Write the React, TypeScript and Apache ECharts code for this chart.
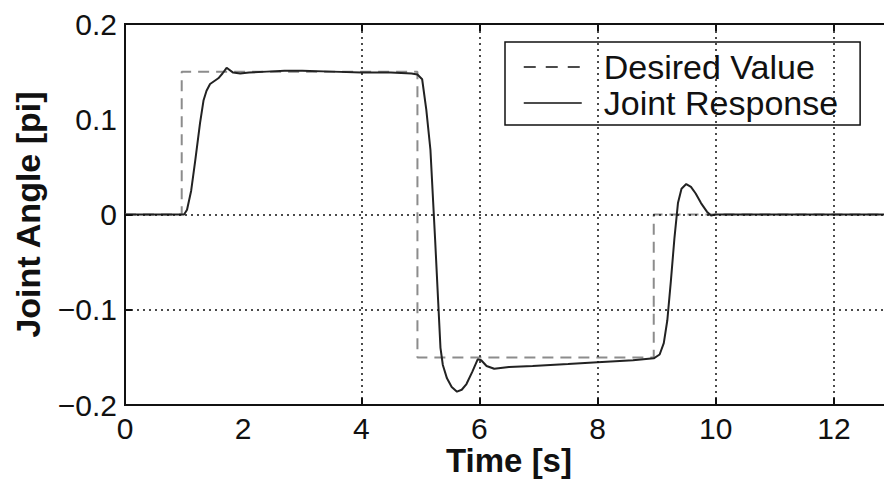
import React, { useEffect, useRef } from "react";
import * as echarts from "echarts";

// ---- data ----
const xTicks = [0, 2, 4, 6, 8, 10, 12];
const yTicks = [-0.2, -0.1, 0, 0.1, 0.2];
const gridX = [4, 6, 8, 10, 12]; // visible vertical grid lines
const gridY = [-0.1, 0]; // visible horizontal grid lines

const desiredX = [0, 0.96, 0.96, 4.95, 4.95, 8.95, 8.95, 13];
const desiredY = [0, 0, 0.15, 0.15, -0.15, -0.15, 0, 0];

const responseX = [
  0, 1.0, 1.05, 1.12, 1.19, 1.27, 1.33, 1.38, 1.44, 1.58, 1.65, 1.72, 1.83, 1.95,
  2.1, 2.4, 2.7, 3.0, 3.5, 4.0, 4.5, 4.85, 4.95, 5.03, 5.1, 5.17, 5.25, 5.3, 5.34,
  5.38, 5.45, 5.53, 5.62, 5.7, 5.78, 5.88, 5.97, 6.03, 6.12, 6.25, 6.5, 6.9, 7.5,
  8.0, 8.6, 8.95, 9.05, 9.12, 9.18, 9.24, 9.3, 9.36, 9.42, 9.5, 9.58, 9.66, 9.75,
  9.85, 9.92, 10.0, 13,
];
const responseY = [
  0, 0, 0.005, 0.025, 0.057, 0.096, 0.12, 0.13, 0.137, 0.143, 0.148, 0.154, 0.149,
  0.148, 0.149, 0.15, 0.151, 0.151, 0.15, 0.149, 0.149, 0.148, 0.147, 0.142, 0.11,
  0.068, -0.027, -0.09, -0.14, -0.158, -0.172, -0.181, -0.186, -0.184, -0.178,
  -0.165, -0.152, -0.153, -0.159, -0.162, -0.16, -0.159, -0.157, -0.155, -0.153,
  -0.151, -0.147, -0.135, -0.111, -0.07, -0.025, 0.012, 0.027, 0.032, 0.029, 0.022,
  0.012, 0.003, -0.001, 0, 0,
];

const seriesNames = ["Desired Value", "Joint Response"];
const xTitle = "Time [s]";
const yTitle = "Joint Angle [pi]";

const FONT = "'Liberation Sans', Arial, Helvetica, sans-serif";

export default function App() {
  const ref = useRef<HTMLDivElement>(null);

  useEffect(() => {
    if (!ref.current) return;
    const chart = echarts.init(ref.current, undefined, { renderer: "svg" });

    const xMin = 0, xMax = 13, yMin = -0.2, yMax = 0.2;
    const plotW = 900 - 125 - 7;
    const plotH = 480 - 24 - 75;
    const tickPx = 7;
    const tickY = (tickPx / plotH) * (yMax - yMin);
    const tickX = (tickPx / plotW) * (xMax - xMin);

    const tickSegments: any[] = [];
    gridX.forEach((x) => {
      tickSegments.push([{ coord: [x, yMax] }, { coord: [x, yMax - tickY] }]);
      tickSegments.push([{ coord: [x, yMin] }, { coord: [x, yMin + tickY] }]);
    });
    gridY.forEach((y) => {
      tickSegments.push([{ coord: [xMin, y] }, { coord: [xMin + tickX, y] }]);
    });

    chart.setOption({
      animation: false,
      backgroundColor: "#fff",
      textStyle: { fontFamily: FONT },
      grid: {
        left: 125,
        right: 7,
        top: 24,
        bottom: 75,
        containLabel: false,
        outerBoundsMode: "none",
        show: true,
        borderColor: "#111",
        borderWidth: 2,
        backgroundColor: "transparent",
      },
      legend: {
        orient: "vertical",
        left: 505,
        top: 42,
        backgroundColor: "#fff",
        borderColor: "#111",
        borderWidth: 1.5,
        borderRadius: 0,
        padding: [8, 22, 5, 18],
        itemWidth: 58,
        itemHeight: 30,
        itemGap: 2,
        textStyle: {
          fontSize: 34,
          color: "#111",
          fontFamily: FONT,
          padding: [0, 0, 0, 17],
        },
        data: [
          {
            name: seriesNames[0],
            lineStyle: { color: "#111", type: [12, 10], width: 1.5 },
            itemStyle: { opacity: 0, color: "transparent", borderWidth: 0 },
          },
          {
            name: seriesNames[1],
            lineStyle: { color: "#111", type: "solid", width: 1.5 },
            itemStyle: { opacity: 0, color: "transparent", borderWidth: 0 },
          },
        ],
      },
      xAxis: {
        type: "value",
        min: xMin,
        max: xMax,
        interval: 2,
        name: xTitle,
        nameLocation: "middle",
        nameGap: 39,
        nameMoveOverlap: false,
        nameTextStyle: {
          fontSize: 33,
          fontWeight: "bold",
          color: "#111",
          fontFamily: FONT,
          verticalAlign: "top",
        },
        axisLine: { show: true, onZero: false, lineStyle: { color: "#111", width: 2 } },
        axisTick: { show: false },
        splitLine: { show: false },
        axisLabel: {
          fontSize: 30,
          color: "#111",
          margin: 8,
          showMaxLabel: false,
          formatter: (v: number) => (xTicks.includes(v) ? String(v) : ""),
        },
      },
      yAxis: {
        type: "value",
        min: yMin,
        max: yMax,
        interval: 0.1,
        name: yTitle,
        nameLocation: "middle",
        nameGap: 80,
        nameRotate: 90,
        nameMoveOverlap: false,
        nameTextStyle: { fontSize: 34, fontWeight: "bold", color: "#111", fontFamily: FONT },
        axisLine: { show: true, onZero: false, lineStyle: { color: "#111", width: 2 } },
        axisTick: { show: false },
        splitLine: { show: false },
        axisLabel: {
          fontSize: 30,
          color: "#111",
          margin: 8,
          formatter: (v: number) => {
            const r = Math.round(v * 10) / 10;
            if (!yTicks.some((t) => Math.abs(t - r) < 1e-9)) return "";
            if (r === 0) return "0";
            return r.toFixed(1).replace("-", "\u2212");
          },
        },
      },
      series: [
        {
          name: "grid",
          type: "line",
          data: [],
          silent: true,
          markLine: {
            silent: true,
            symbol: ["none", "none"],
            label: { show: false },
            lineStyle: { color: "#111", type: [2, 4], width: 1.5 },
            data: [
              ...gridX.map((x) => ({ xAxis: x })),
              ...gridY.map((y) => ({ yAxis: y })),
            ],
          },
        },
        {
          name: "ticks",
          type: "line",
          data: [],
          silent: true,
          markLine: {
            silent: true,
            symbol: ["none", "none"],
            label: { show: false },
            lineStyle: { color: "#111", type: "solid", width: 2 },
            data: tickSegments,
          },
        },
        {
          name: seriesNames[0],
          type: "line",
          symbol: "none",
          data: desiredX.map((x, i) => [x, desiredY[i]]),
          lineStyle: { color: "#8c8c8c", type: [11, 7], width: 2 },
          itemStyle: { color: "#8c8c8c" },
          z: 3,
        },
        {
          name: seriesNames[1],
          type: "line",
          symbol: "none",
          data: responseX.map((x, i) => [x, responseY[i]]),
          lineStyle: { color: "#222", type: "solid", width: 2 },
          itemStyle: { color: "#222" },
          z: 4,
        },
      ],
    });

    return () => chart.dispose();
  }, []);

  return (
    <div
      style={{
        position: "fixed",
        left: 0,
        top: 0,
        width: 884,
        height: 480,
        overflow: "hidden",
        background: "#fff",
      }}
    >
      <div ref={ref} style={{ width: 900, height: 480 }} />
    </div>
  );
}
